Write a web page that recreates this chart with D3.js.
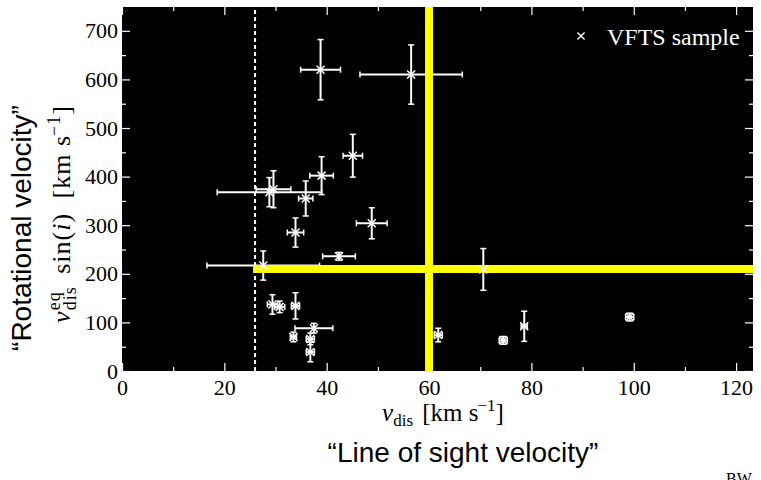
<!DOCTYPE html>
<meta charset="utf-8">
<style>
body { margin: 0; background: #fff; }
text { font-family: "Liberation Serif", serif; }
.tick text { font-size: 22px; fill: #000; }
.sans { font-family: "Liberation Sans", Arial, sans-serif; }
</style>
<svg width="761" height="480"></svg>
<script src="https://d3js.org/d3.v7.min.js"></script>
<script>

// VFTS sample
var vdis     = [38.8, 56.5, 45.1, 39.0, 28.8, 29.6, 35.9, 48.8, 33.9, 42.4, 27.6, 70.6, 29.4, 30.8, 33.9, 37.5, 33.5, 36.8, 36.8, 61.8, 74.5, 78.6, 99.2];
var vdisErr  = [3.9, 10.0, 1.9, 2.3, 10.2, 3.4, 1.4, 3.0, 1.6, 3.2, 11.0, 2.0, 1.0, 1.0, 0.8, 3.7, 0.6, 0.8, 0.8, 0.8, 0.8, 0.6, 0.8];
var vrot     = [620, 610, 443, 402, 368, 374, 355, 304, 285, 236, 217, 209, 137, 132, 134, 88, 70, 66, 39, 74, 63, 92, 111];
var vrotErr  = [62, 61, 44, 39, 30, 38, 36, 32, 30, 8, 30, 43, 20, 12, 27, 10, 10, 12, 20, 14, 8, 31, 8];

var xTicks = [0, 20, 40, 60, 80, 100, 120];
var yTicks = [0, 100, 200, 300, 400, 500, 600, 700];
var dashedAt = 26;      // vertical dashed line
var cutX = 60;          // yellow vertical
var cutY = 210;         // yellow horizontal, from dashedAt to the right

var svg = d3.select("svg");
var pl = 122, pr = 753, pt = 7, pb = 371;

var x = d3.scaleLinear().domain([0, 123.3]).range([pl, pr]);
var y = d3.scaleLinear().domain([0, 749]).range([pb, pt]);

svg.append("rect")
    .attr("x", pl).attr("y", pt)
    .attr("width", pr - pl).attr("height", pb - pt)
    .attr("fill", "#000");

// ticks, inward and white, mirrored on all sides
function ticks(axis, pos, major, minor) {
  var g = svg.append("g").attr("transform", pos);
  g.call(axis.tickValues(minor).tickSize(4).tickFormat(""));
  g.selectAll(".domain").remove();
  g.selectAll(".tick line").attr("stroke", "#fff").attr("stroke-width", 1.2);
  var g2 = svg.append("g").attr("transform", pos);
  g2.call(axis.tickValues(major).tickSize(8).tickFormat(d3.format("d")));
  g2.selectAll(".domain").remove();
  g2.selectAll(".tick line").attr("stroke", "#fff").attr("stroke-width", 1.2);
  return g2;
}
var xMinor = d3.range(10, 124, 20), yMinor = d3.range(50, 749, 100);

var gx = ticks(d3.axisTop(x), "translate(0," + pb + ")", xTicks, xMinor);
gx.selectAll(".tick text").attr("y", 24).attr("dy", 0);
ticks(d3.axisBottom(x), "translate(0," + pt + ")", xTicks, xMinor).selectAll("text").remove();
var gy = ticks(d3.axisRight(y), "translate(" + pl + ",0)", yTicks, yMinor);
gy.selectAll(".tick text").attr("x", -4).attr("dy", "0.32em").attr("text-anchor", "end");
ticks(d3.axisLeft(y), "translate(" + pr + ",0)", yTicks, yMinor).selectAll("text").remove();

// dashed line
svg.append("line")
    .attr("x1", x(dashedAt)).attr("x2", x(dashedAt))
    .attr("y1", y(0)).attr("y2", y(749))
    .attr("stroke", "#fff").attr("stroke-width", 2)
    .attr("stroke-dasharray", "4,3");

// error bars
var pts = vdis.map(function(d, i) {
  return { x: d, xe: vdisErr[i], y: vrot[i], ye: vrotErr[i] };
});
var eb = svg.append("g").attr("stroke", "#fff").attr("stroke-width", 2);
pts.forEach(function(p) {
  var cx = x(p.x), cy = y(p.y);
  var x0 = x(p.x - p.xe), x1 = x(p.x + p.xe), y0 = y(p.y - p.ye), y1 = y(p.y + p.ye);
  eb.append("line").attr("x1", x0).attr("x2", x1).attr("y1", cy).attr("y2", cy);
  eb.append("line").attr("x1", cx).attr("x2", cx).attr("y1", y0).attr("y2", y1);
  [x0, x1].forEach(function(v) {
    eb.append("line").attr("x1", v).attr("x2", v).attr("y1", cy - 3).attr("y2", cy + 3).attr("stroke-width", 1.5);
  });
  [y0, y1].forEach(function(v) {
    eb.append("line").attr("x1", cx - 3).attr("x2", cx + 3).attr("y1", v).attr("y2", v).attr("stroke-width", 1.5);
  });
});

// yellow cuts
svg.append("line")
    .attr("x1", x(cutX)).attr("x2", x(cutX))
    .attr("y1", y(0)).attr("y2", y(749))
    .attr("stroke", "#ffff00").attr("stroke-width", 8);
svg.append("line")
    .attr("x1", x(dashedAt) - 2).attr("x2", x(123.3))
    .attr("y1", y(cutY)).attr("y2", y(cutY))
    .attr("stroke", "#ffff00").attr("stroke-width", 8);

// markers
var cross = "M-4,-4L4,4M-4,4L4,-4";
svg.append("g").selectAll("path")
  .data(pts)
  .enter().append("path")
    .attr("transform", function(d) { return "translate(" + x(d.x) + "," + y(d.y) + ")"; })
    .attr("d", cross)
    .attr("stroke", "#fff").attr("stroke-width", 1.5).attr("fill", "none");

// legend
svg.append("path")
    .attr("transform", "translate(581,36) scale(0.9)")
    .attr("d", cross)
    .attr("stroke", "#fff").attr("stroke-width", 1.5);
svg.append("text")
    .attr("x", 607).attr("y", 45)
    .attr("fill", "#fff").attr("font-size", 24)
    .text("VFTS sample");

// x label
var xl = svg.append("text").attr("x", 443).attr("y", 421)
    .attr("text-anchor", "middle").attr("font-size", 25);
xl.append("tspan").attr("font-style", "italic").text("v");
xl.append("tspan").attr("font-size", 17).attr("dy", 5).text("dis");
xl.append("tspan").attr("dy", -5).attr("dx", 3).text(" [km s");
xl.append("tspan").attr("font-size", 17).attr("dy", -10).attr("dx", -1).text("\u22121");
xl.append("tspan").attr("dy", 10).text("]");

// y label
var yl = svg.append("text")
    .attr("transform", "translate(70,214) rotate(-90)")
    .attr("text-anchor", "middle").attr("font-size", 26)
    .attr("letter-spacing", 1);
yl.append("tspan").attr("font-style", "italic").text("v");
var eq = yl.append("tspan").attr("font-size", 18).attr("dy", -10).text("eq");
var dis = yl.append("tspan").attr("font-size", 18).attr("dy", 16).text("dis");
dis.attr("dx", -eq.node().getComputedTextLength());
yl.append("tspan").attr("dy", -6).attr("dx", 5).text(" sin(");
yl.append("tspan").attr("font-style", "italic").text("i");
yl.append("tspan").text(")");
yl.append("tspan").attr("dx", 7).text(" [km s");
yl.append("tspan").attr("font-size", 18).attr("dy", -10).attr("dx", -1).text("\u22121");
yl.append("tspan").attr("dy", 10).text("]");

// quoted titles
svg.append("text").attr("class", "sans")
    .attr("x", 463).attr("y", 462)
    .attr("text-anchor", "middle").attr("font-size", 28)
    .text("\u201cLine of sight velocity\u201d");
svg.append("text").attr("class", "sans")
    .attr("transform", "translate(31,228) rotate(-90)")
    .attr("text-anchor", "middle").attr("font-size", 28)
    .text("\u201cRotational velocity\u201d");

svg.append("text")
    .attr("x", 739).attr("y", 484)
    .attr("text-anchor", "middle").attr("font-size", 16)
    .text("BW");

</script>
